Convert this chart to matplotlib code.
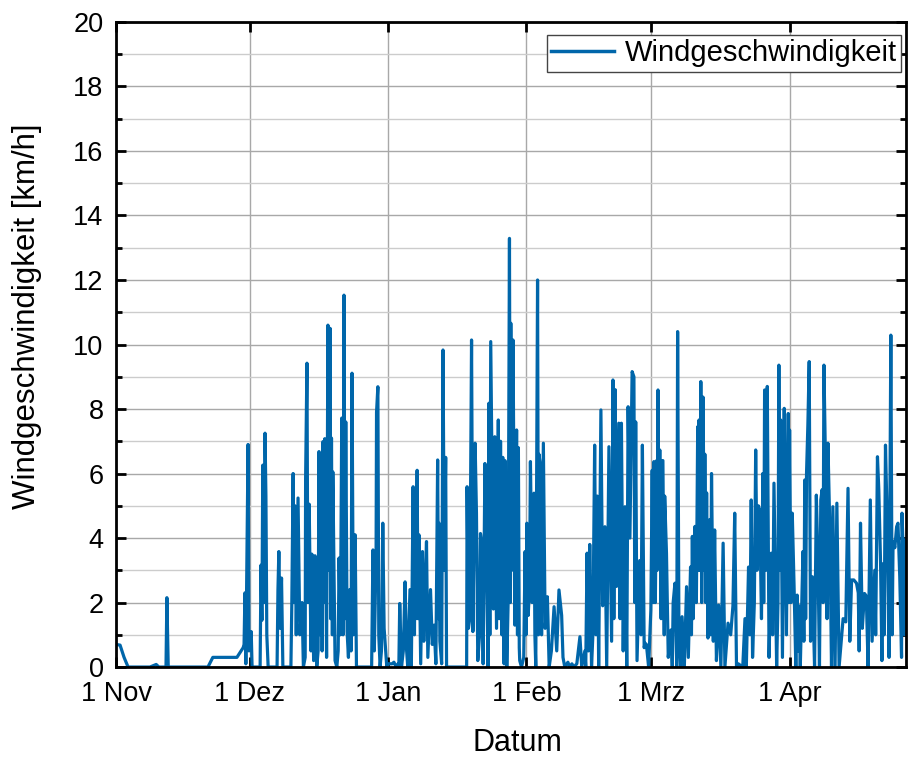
import matplotlib
matplotlib.use("Agg")
import matplotlib.pyplot as plt
import numpy as np
from matplotlib.ticker import MultipleLocator, FixedLocator, FixedFormatter

# ---- data: day offset since 1 Nov, wind speed km/h ----
nov_days = [0.0, 0.9, 1.8, 2.7, 7.6, 9.0, 9.6, 11.2, 11.4, 11.7, 20.6, 21.7, 27.1, 28.5, 28.7, 28.9, 29.1, 29.6, 29.8, 30.3, 30.5]
nov_vals = [0.7, 0.68, 0.3, 0.0, 0.0, 0.08, 0.0, 0.0, 2.15, 0.0, 0.0, 0.3, 0.3, 0.6, 0.7, 2.3, 0.1, 6.9, 0.5, 1.1, 0.0]

dec_days = [32.3, 32.5, 32.7, 32.9, 33.2, 33.4, 33.6, 33.8, 34.1, 36.1, 36.3, 36.5, 36.8, 37.1, 37.4,
            39.2, 39.4, 39.7, 39.9, 40.1, 40.4, 40.8, 41.2, 41.7, 42.0, 42.4, 42.5, 42.8, 43.0, 43.3,
            43.7, 43.9, 44.3, 44.6, 45.0, 45.3, 45.5, 45.8, 46.1, 46.2, 46.4, 46.6, 46.8, 47.2, 47.5,
            47.7, 48.0, 48.1, 48.3, 48.5, 48.6, 49.1, 49.5, 49.8, 50.0, 50.3, 50.6, 50.9, 51.1, 51.3,
            51.5, 51.8, 52.1, 52.4, 52.7, 52.9, 53.2, 53.6, 53.9, 57.3, 57.6, 57.9, 58.3, 58.4, 58.7,
            58.9, 59.2, 59.5, 59.8, 60.1, 60.3, 60.7]
dec_vals = [0.0, 3.16, 1.45, 6.26, 2.0, 7.25, 5.3, 1.0, 0.0, 0.0, 2.4, 3.58, 1.2, 2.76, 0.0,
            0.0, 1.9, 6.0, 2.0, 5.0, 1.0, 5.24, 1.0, 2.0, 0.0, 0.3, 5.85, 9.42, 2.0, 5.05,
            0.5, 3.5, 0.2, 3.45, 0.0, 0.5, 6.68, 1.0, 6.4, 0.5, 6.99, 2.0, 7.08, 0.3, 10.6,
            3.0, 10.5, 1.5, 7.1, 1.0, 6.05, 0.2, 0.0, 0.5, 3.38, 1.0, 7.72, 1.0, 11.53, 1.5,
            7.6, 1.1, 0.3, 2.4, 0.5, 9.11, 1.0, 4.1, 0.0, 0.0, 3.63, 0.5, 3.5, 7.9, 8.69,
            1.0, 0.0, 0.5, 4.46, 1.2, 0.8, 0.0]

jan_days = [61.0, 61.9, 62.3, 62.8, 63.2, 63.4, 63.6, 64.0, 64.4, 64.8, 65.1, 65.4, 65.9, 66.2, 66.6,
            66.9, 67.1, 67.2, 67.5, 67.7, 67.9, 68.3, 68.7, 69.0, 69.2, 69.6, 69.9, 70.5, 70.9, 71.3,
            71.7, 72.1, 72.3, 72.4, 72.6, 73.0, 73.3, 73.6, 73.9, 74.1, 78.6, 78.7, 79.0, 79.3, 79.7,
            80.0, 80.5, 80.8, 81.1, 81.5, 81.7, 82.0, 82.3, 82.7, 83.1, 83.4, 83.6, 83.8, 84.0, 84.6,
            84.9, 85.3, 85.7, 85.9, 86.2, 86.5, 86.7, 87.0, 87.2, 87.6, 87.9, 88.2, 88.4, 88.5, 88.7,
            89.0, 89.4, 89.8, 90.0, 90.2, 90.4, 90.5, 90.9]
jan_vals = [0.1, 0.1, 0.15, 0.0, 0.1, 0.0, 1.97, 0.0, 0.5, 2.64, 0.6, 0.0, 2.4, 0.0, 5.59,
            1.0, 5.1, 1.5, 6.1, 1.5, 4.1, 0.1, 3.58, 0.8, 2.0, 3.89, 0.3, 2.4, 0.7, 1.3,
            0.1, 6.42, 1.5, 4.46, 0.8, 0.1, 9.83, 3.0, 6.5, 0.0, 0.0, 5.59, 1.2, 1.5, 10.14,
            1.1, 6.94, 4.77, 0.2, 1.0, 4.14, 3.83, 0.1, 6.31, 2.95, 0.0, 8.18, 1.0, 10.09, 1.8,
            7.14, 1.2, 7.66, 1.5, 7.0, 1.0, 6.5, 0.1, 6.4, 0.0, 2.0, 13.29, 2.0, 10.66, 3.0,
            10.14, 1.3, 7.35, 1.0, 6.8, 0.6, 0.2, 0.0]

feb_days = [91.4, 91.7, 91.9, 92.1, 92.4, 92.7, 92.9, 93.3, 93.7, 93.9, 94.1, 94.5, 94.7, 94.8, 95.1,
            95.4, 95.8, 96.2, 96.7, 97.1, 97.6, 98.2, 98.8, 99.3, 99.9, 100.2, 100.6, 101.3, 101.7, 102.2,
            102.6, 103.3, 104.0, 104.4, 105.1, 105.3, 105.6, 105.9, 106.2, 106.6, 106.9, 107.3, 107.6, 107.9, 108.2,
            108.7, 109.1, 109.6, 110.0, 110.5, 111.1, 111.4, 111.6, 111.9, 112.2, 112.7, 113.0, 113.3, 113.7, 114.1,
            114.5, 114.8, 115.2, 115.7, 116.1, 116.3, 116.5, 116.8, 117.4, 117.7, 118.0, 118.4, 118.6, 118.9, 119.4]
feb_vals = [0.3, 3.58, 1.0, 4.46, 1.6, 2.5, 6.37, 2.0, 5.39, 1.0, 0.0, 12.0, 1.0, 6.6, 6.3,
            1.0, 6.94, 1.2, 2.18, 0.0, 0.5, 1.87, 0.5, 2.39, 1.6, 0.3, 0.0, 0.15, 0.0, 0.1,
            0.0, 0.1, 0.94, 0.0, 0.5, 0.0, 3.53, 0.5, 3.8, 0.0, 1.0, 6.88, 1.0, 5.3, 0.0,
            7.97, 1.9, 4.35, 0.0, 6.83, 0.8, 8.9, 1.5, 8.6, 2.5, 7.56, 1.5, 7.56, 0.5, 4.97,
            0.0, 8.07, 4.0, 9.16, 9.0, 2.0, 7.6, 0.2, 3.3, 1.0, 6.88, 0.6, 0.74, 0.7, 0.0]

mar_days = [119.9, 120.2, 120.4, 120.6, 120.9, 121.2, 121.3, 121.5, 121.7, 121.9, 122.2, 122.4, 122.6, 122.9, 123.0,
            123.4, 123.8, 124.4, 124.7, 124.9, 125.3, 125.7, 125.9, 126.2, 126.6, 126.9, 127.4, 127.9, 128.3, 128.8,
            129.0, 129.2, 129.4, 129.8, 130.1, 130.4, 130.6, 130.7, 130.9, 131.1, 131.3, 131.6, 131.9, 132.0, 132.2,
            132.4, 132.7, 133.1, 133.3, 133.5, 133.9, 134.2, 134.6, 135.1, 135.6, 136.1, 136.5, 137.2, 137.8, 138.3,
            138.7, 139.1, 139.5, 140.5, 141.0, 141.3, 141.8, 142.1, 142.4, 142.7, 143.1, 143.4, 143.7, 144.0, 144.3,
            144.7, 145.0, 145.2, 145.4, 145.7, 146.0, 146.4, 146.9, 147.2, 147.5, 148.1, 148.4, 148.6, 148.8, 149.0,
            149.4, 149.8, 150.1, 150.3]
mar_vals = [1.77, 6.1, 2.0, 6.37, 2.0, 6.4, 3.0, 8.59, 4.0, 6.73, 1.5, 6.4, 6.4, 1.0, 5.3,
            3.53, 0.3, 1.15, 0.0, 2.0, 2.6, 0.0, 10.4, 0.8, 0.0, 1.56, 0.0, 2.49, 0.3, 3.1,
            1.0, 4.05, 1.5, 4.36, 2.0, 7.45, 3.0, 7.66, 3.0, 8.85, 2.0, 8.37, 3.0, 6.6, 2.0,
            5.4, 0.9, 4.57, 1.0, 6.0, 0.8, 4.25, 0.2, 1.92, 0.0, 3.84, 0.0, 1.36, 1.0, 1.9,
            4.77, 0.0, 0.1, 0.0, 1.5, 0.0, 3.1, 1.0, 5.18, 0.3, 2.0, 6.73, 3.0, 5.0, 4.87,
            1.5, 6.0, 2.0, 8.59, 3.0, 8.7, 0.3, 3.53, 1.0, 5.7, 0.0, 2.0, 9.36, 3.0, 7.66,
            0.3, 8.02, 3.0, 1.0]

apr_days = [150.7, 150.8, 151.0, 151.3, 151.6, 152.0, 152.4, 152.7, 152.9, 153.1, 153.4, 154.0, 154.2, 154.4, 154.6,
            154.8, 155.1, 155.4, 155.7, 156.1, 156.6, 157.0, 157.4, 157.7, 158.0, 158.3, 158.5, 158.7, 159.2, 159.4,
            159.6, 160.0, 160.4, 160.7, 161.2, 161.6, 162.1, 163.0, 163.6, 164.1, 164.5, 164.9, 165.4, 166.0, 166.4,
            166.6, 166.9, 167.3, 167.8, 168.2, 168.6, 169.1, 169.5, 170.1, 170.3, 170.7, 171.0, 171.4, 171.7, 171.9,
            172.2, 172.5, 172.8, 173.3, 173.7, 174.0, 174.2, 174.6, 175.0, 175.3, 175.7, 176.1, 176.2, 176.6, 176.8,
            177.0, 177.5]
apr_vals = [7.86, 2.0, 7.35, 2.0, 4.77, 2.54, 0.0, 2.23, 0.5, 1.9, 0.0, 3.58, 0.8, 5.8, 1.5,
            6.0, 7.5, 9.47, 0.8, 2.8, 0.0, 5.33, 3.0, 0.0, 5.18, 5.5, 2.0, 9.36, 5.0, 1.5,
            6.94, 4.4, 0.0, 4.97, 0.0, 5.08, 0.0, 1.5, 1.4, 5.54, 0.8, 2.7, 2.7, 2.6, 2.3,
            0.5, 4.46, 1.2, 2.28, 2.2, 0.0, 5.18, 0.8, 3.0, 1.0, 6.52, 5.5, 3.2, 0.2, 3.2,
            1.0, 6.88, 5.0, 0.3, 10.29, 1.0, 3.9, 3.7, 4.35, 4.46, 2.8, 0.3, 4.77, 3.0, 1.0,
            3.95, 3.0]

tick_days = [0, 30, 61, 92, 120, 151]
tick_labels = ["1 Nov", "1 Dez", "1 Jan", "1 Feb", "1 Mrz", "1 Apr"]

days = np.array(nov_days + dec_days + jan_days + feb_days + mar_days + apr_days)
vals = np.array(nov_vals + dec_vals + jan_vals + feb_vals + mar_vals + apr_vals)

plt.rcParams['font.family'] = ['Liberation Sans', 'DejaVu Sans']

fig = plt.figure(figsize=(9.08, 7.58), dpi=100)
ax = fig.add_axes([0.1278, 0.12, 0.8700, 0.851])

line_color = '#0066AA'
ax.plot(days, vals, color=line_color, lw=2.3, solid_joinstyle='round', label='Windgeschwindigkeit', zorder=3)

ax.set_xlim(0, 177.1)
ax.set_ylim(0, 20)

ax.xaxis.set_major_locator(FixedLocator(tick_days))
ax.xaxis.set_major_formatter(FixedFormatter(tick_labels))
ax.yaxis.set_major_locator(MultipleLocator(2))
ax.yaxis.set_minor_locator(MultipleLocator(1))

ax.grid(True, which='major', axis='both', color='#a8a8a8', lw=1.0, zorder=0)
ax.grid(True, which='minor', axis='y', color='#cccccc', lw=1.0, zorder=0)
ax.set_axisbelow(True)

for s in ax.spines.values():
    s.set_linewidth(2.0)
    s.set_color('black')
    s.set_zorder(5)

ax.tick_params(which='major', direction='in', length=7, width=2.0, top=True, right=True,
               labelsize=19.5, color='black')
ax.tick_params(axis='x', which='major', pad=10)
ax.tick_params(axis='y', which='major', pad=9)
ax.tick_params(which='minor', direction='in', length=4, width=2.0, top=False, right=True, bottom=False)

ax.set_xlabel('Datum', fontsize=22)
ax.set_ylabel('Windgeschwindigkeit [km/h]', fontsize=22.5)
ax.xaxis.set_label_coords(0.5076, -0.095)
ax.yaxis.set_label_coords(-0.094, 0.544)

leg = ax.legend(loc='upper right', bbox_to_anchor=(0.9937, 0.980), fontsize=21, frameon=True,
                fancybox=False, edgecolor='#444444', framealpha=1.0, borderpad=0.15,
                handlelength=2.17, handletextpad=0.35, borderaxespad=0.0)
leg.get_frame().set_linewidth(1.0)
for l in leg.get_lines():
    l.set_linewidth(2.5)

fig.savefig('out.png', dpi=100)
